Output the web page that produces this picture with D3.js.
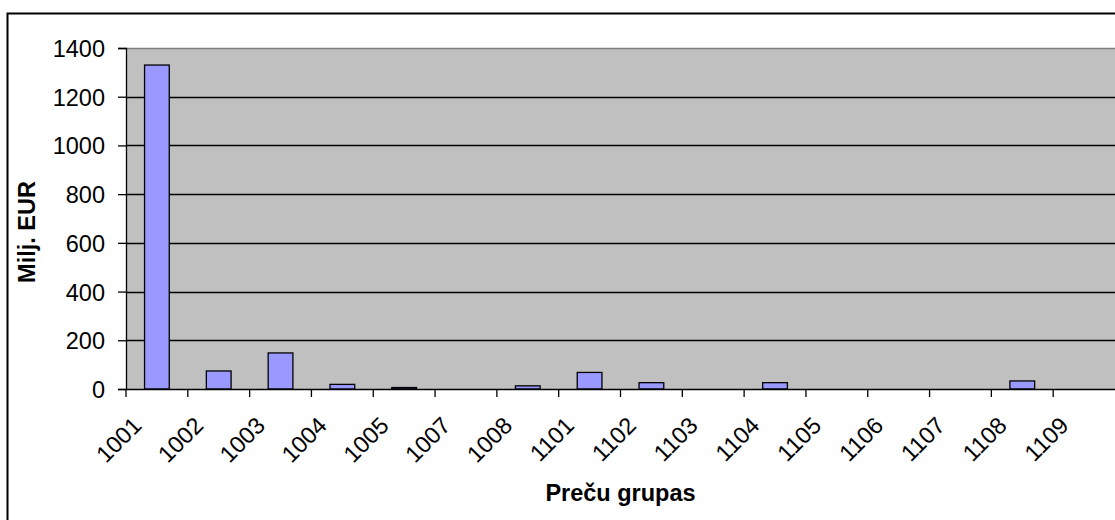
<!DOCTYPE html>
<html>
<head>
<meta charset="utf-8">
<script src="https://cdn.jsdelivr.net/npm/d3@7/dist/d3.min.js"></script>
<style>
  html, body { margin: 0; padding: 0; background: #fff; }
  svg { display: block; }
  text { font-family: "Liberation Sans", Arial, sans-serif; fill: #000; }
</style>
</head>
<body>
<svg id="chart" width="1115" height="520"></svg>
<script>
const categories = ["1001","1002","1003","1004","1005","1007","1008","1101","1102","1103","1104","1105","1106","1107","1108","1109"];
const values = [1330, 74, 148, 19, 6, 0, 13, 68, 26, 0, 26, 0, 0, 0, 33, 0];
const yTicks = [0, 200, 400, 600, 800, 1000, 1200, 1400];
const xTitle = "Preču grupas";
const yTitle = "Milj. EUR";

const svg = d3.select("#chart");
const W = 1115, H = 520;
const plot = { left: 126, top: 48, right: 1115, bottom: 389 };
const FS = 23.5;

// outer chart border (left and top visible)
svg.append("rect")
  .attr("x", 7.5).attr("y", 13.5)
  .attr("width", W + 20).attr("height", H + 20)
  .attr("fill", "#fff").attr("stroke", "#000").attr("stroke-width", 2);

const x = d3.scaleBand().domain(categories).range([plot.left, plot.right]).paddingInner(0).paddingOuter(0);
const y = d3.scaleLinear().domain([0, 1400]).range([plot.bottom, plot.top]);

// plot background
svg.append("rect")
  .attr("x", plot.left).attr("y", plot.top)
  .attr("width", plot.right - plot.left + 5).attr("height", plot.bottom - plot.top)
  .attr("fill", "#C0C0C0");

// gridlines
svg.append("g").selectAll("line")
  .data(yTicks.filter(t => t > 0 && t < 1400))
  .join("line")
  .attr("x1", plot.left).attr("x2", plot.right + 5)
  .attr("y1", d => Math.round(y(d)) + 0.5).attr("y2", d => Math.round(y(d)) + 0.5)
  .attr("stroke", "#000").attr("stroke-width", 1.3);

// plot top border (gray)
svg.append("line")
  .attr("x1", plot.left).attr("x2", plot.right + 5)
  .attr("y1", plot.top + 0.5).attr("y2", plot.top + 0.5)
  .attr("stroke", "#808080").attr("stroke-width", 1.5);

// bars
const barW = x.bandwidth() / 2.5;
svg.append("g").selectAll("rect")
  .data(categories.map((c, i) => ({ c, v: values[i] })).filter(d => d.v > 0))
  .join("rect")
  .attr("x", d => x(d.c) + (x.bandwidth() - barW) / 2)
  .attr("y", d => y(d.v))
  .attr("width", barW)
  .attr("height", d => y(0) - y(d.v))
  .attr("fill", "#9999FF")
  .attr("stroke", "#000").attr("stroke-width", 1.3);

// y axis
const yAxis = d3.axisLeft(y).tickValues(yTicks).tickSize(8).tickPadding(13).tickFormat(d3.format("d"));
const gy = svg.append("g").attr("transform", `translate(${plot.left},0)`).call(yAxis);
gy.select(".domain").attr("stroke", "#000").attr("stroke-width", 1.3);
gy.selectAll(".tick line").attr("stroke", "#000").attr("stroke-width", 1.3);
gy.selectAll(".tick text").attr("font-size", FS).attr("dy", "0.36em");

// x axis
const gx = svg.append("g").attr("transform", `translate(0,${plot.bottom})`);
gx.append("line")
  .attr("x1", plot.left).attr("x2", plot.right + 5)
  .attr("y1", 0.5).attr("y2", 0.5)
  .attr("stroke", "#000").attr("stroke-width", 1.3);
gx.selectAll("line.tk")
  .data(categories)
  .join("line").attr("class", "tk")
  .attr("x1", d => x(d)).attr("x2", d => x(d))
  .attr("y1", 0).attr("y2", 8)
  .attr("stroke", "#000").attr("stroke-width", 1.3);
gx.selectAll("text.lbl")
  .data(categories)
  .join("text").attr("class", "lbl")
  .attr("text-anchor", "end")
  .attr("font-size", FS)
  .attr("transform", d => `translate(${x(d) + x.bandwidth() / 2 - 14},38) rotate(-45)`)
  .text(d => d);

// axis titles
svg.append("text")
  .attr("x", (plot.left + plot.right) / 2).attr("y", 501)
  .attr("text-anchor", "middle")
  .attr("font-size", FS).attr("font-weight", "bold")
  .text(xTitle);

svg.append("text")
  .attr("transform", `translate(35,232) rotate(-90)`)
  .attr("text-anchor", "middle")
  .attr("font-size", FS).attr("font-weight", "bold")
  .text(yTitle);
</script>
</body>
</html>
